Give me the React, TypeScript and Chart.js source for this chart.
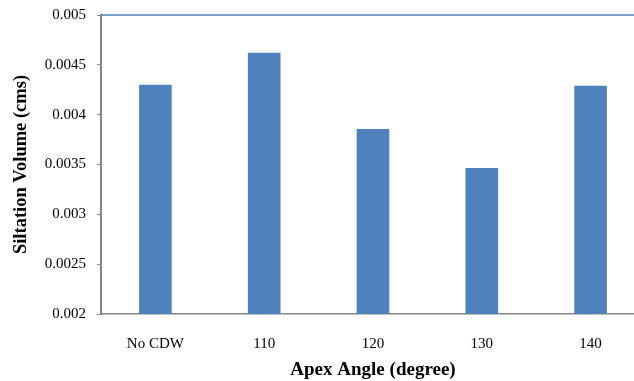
import React, { useEffect, useRef } from "react";
import { Chart, registerables } from "chart.js";

Chart.register(...registerables);

const categories = ["No CDW", "110", "120", "130", "140"];
const siltationVolume = [0.0043, 0.00462, 0.003857, 0.003465, 0.00429];
const yMin = 0.002;
const yMax = 0.005;
const yStep = 0.0005;

const serif = "'Liberation Serif', 'Times New Roman', serif";

const topBorderPlugin = {
  id: "topBorder",
  afterDatasetsDraw(chart: any) {
    const { ctx, chartArea } = chart;
    ctx.save();
    ctx.strokeStyle = "#4f81bd";
    ctx.lineWidth = 1.5;
    ctx.beginPath();
    ctx.moveTo(chartArea.left, chartArea.top);
    ctx.lineTo(chartArea.right, chartArea.top);
    ctx.stroke();
    ctx.restore();
  },
};

export default function App() {
  const ref = useRef<HTMLCanvasElement>(null);
  useEffect(() => {
    if (!ref.current) return;
    const chart = new Chart(ref.current, {
      type: "bar",
      data: {
        labels: categories,
        datasets: [
          {
            data: siltationVolume,
            backgroundColor: "#4f81bd",
            barPercentage: 0.3,
            categoryPercentage: 1,
          },
        ],
      },
      options: {
        animation: false,
        responsive: false,
        maintainAspectRatio: false,
        layout: { padding: { top: 15, right: 0, left: 0, bottom: 0 } },
        plugins: { legend: { display: false }, tooltip: { enabled: false } },
        scales: {
          x: {
            grid: { display: false },
            border: { display: true, color: "#868686", width: 1.5 },
            ticks: {
              color: "#000",
              padding: 13,
              font: { family: serif, size: 15 },
            },
            title: {
              display: true,
              text: "Apex Angle (degree)",
              color: "#000",
              padding: { top: 4, bottom: 0 },
              font: { family: serif, size: 19, weight: "bold" },
            },
            afterFit(scale: any) {
              scale.height = 67;
              scale.paddingLeft = 0;
              scale.paddingRight = 0;
            },
          },
          y: {
            min: yMin,
            max: yMax,
            grid: { drawOnChartArea: false, drawTicks: true, tickLength: 4, color: "#868686" },
            border: { display: true, color: "#868686", width: 2 },
            ticks: {
              stepSize: yStep,
              color: "#000",
              padding: 11,
              font: { family: serif, size: 15 },
              callback: (v: any) => String(Number(Number(v).toFixed(4))),
            },
            title: {
              display: true,
              text: "Siltation Volume (cms)",
              color: "#000",
              padding: { top: 10, bottom: 4 },
              font: { family: serif, size: 18.5, weight: "bold" },
            },
            afterFit(scale: any) {
              scale.width = 101;
              scale.paddingTop = 0;
              scale.paddingBottom = 0;
            },
          },
        },
      },
      plugins: [topBorderPlugin],
    });
    return () => chart.destroy();
  }, []);
  return (
    <div style={{ position: "fixed", left: 0, top: 0, width: 634, height: 381, overflow: "hidden", background: "#fff" }}>
      <canvas ref={ref} width={645} height={381} style={{ width: 645, height: 381, display: "block" }} />
    </div>
  );
}
